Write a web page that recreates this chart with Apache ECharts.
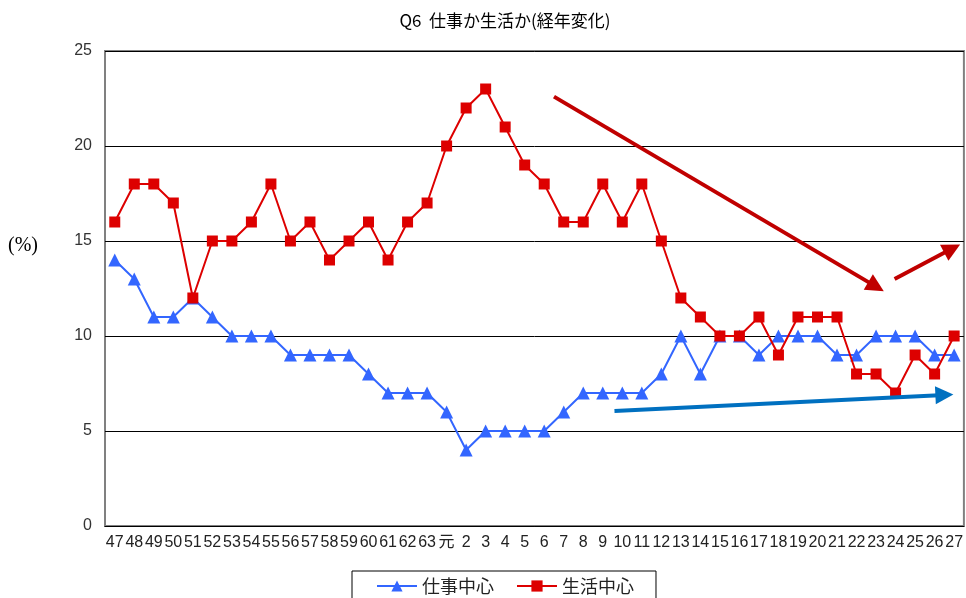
<!DOCTYPE html>
<html><head><meta charset="utf-8">
<script src="https://cdn.jsdelivr.net/npm/echarts@6/dist/echarts.min.js"></script>
<style>html,body{margin:0;padding:0;background:#fff}#c{width:966px;height:598px}</style>
</head><body><div id="c"></div>
<script>
var categories = ['47','48','49','50','51','52','53','54','55','56','57','58','59','60','61','62','63','元','2','3','4','5','6','7','8','9','10','11','12','13','14','15','16','17','18','19','20','21','22','23','24','25','26','27'];
var workValues = [14,13,11,11,12,11,10,10,10,9,9,9,9,8,7,7,7,6,4,5,5,5,5,6,7,7,7,7,8,10,8,10,10,9,10,10,10,9,9,10,10,10,9,9];
var lifeValues = [16,18,18,17,12,15,15,16,18,15,16,14,15,16,14,16,17,20,22,23,21,19,18,16,16,18,16,18,15,12,11,10,10,11,9,11,11,11,8,8,7,9,8,10];
var yTicks = [0,5,10,15,20,25];
// trend arrows (annotation), in [category index, value]
var arrowDown = [[22.5,22.6],[39.0,12.6]];
var arrowUp = [[39.95,13.0],[42.9,14.6]];
var arrowBlue = [[25.6,6.05],[42.5,6.9]];

var font = "'Liberation Sans','Noto Sans CJK JP',sans-serif";
var chart = echarts.init(document.getElementById('c'));
chart.setOption({
  animation:false,
  title:{text:'Q6  仕事か生活か(経年変化)',left:500,textAlign:'center',top:7,
    textStyle:{fontSize:17,fontWeight:'normal',color:'#000',fontFamily:"'Noto Sans CJK JP',sans-serif"}},
  graphic:[{type:'text',left:8,top:236,style:{text:'(%)',font:"20px 'Liberation Serif','DejaVu Serif',serif",fill:'#000'}}],
  legend:{data:['仕事中心','生活中心'],left:352,top:571,padding:[6,22,10,24],itemGap:22,itemWidth:40,itemHeight:14,
    borderColor:'#000',borderWidth:1,
    textStyle:{fontSize:18,color:'#222',fontFamily:"'Noto Sans CJK JP',sans-serif"}},
  grid:{left:105,top:51,width:862,height:475,show:true,borderColor:'#808080',borderWidth:2,backgroundColor:'transparent'},
  xAxis:[{type:'category',data:categories,boundaryGap:true,
      axisLine:{lineStyle:{color:'#000',width:1}},
      axisTick:{inside:true,length:5,lineStyle:{color:'#000'}},
      axisLabel:{interval:0,fontSize:16,color:'#222',fontFamily:font,margin:9,hideOverlap:false},
      splitLine:{show:false}},
    {type:'value',min:-0.5,max:43.5,show:false}],
  yAxis:{type:'value',min:0,max:25,interval:5,
    axisLine:{show:true,onZero:false,lineStyle:{color:'#808080',width:2}},
    axisTick:{show:true,inside:true,length:4,lineStyle:{color:'#000'}},
    axisLabel:{fontSize:16,color:'#333',fontFamily:font,margin:13,
      formatter:function(v){return yTicks.indexOf(v)>=0?String(v):'';}},
    splitLine:{show:true,lineStyle:{color:'#000',width:1}}},
  series:[
    {name:'仕事中心',type:'line',data:workValues,symbol:'triangle',symbolSize:13,
      lineStyle:{color:'#3366ff',width:2},itemStyle:{color:'#3366ff'},z:3},
    {name:'生活中心',type:'line',data:lifeValues,symbol:'rect',symbolSize:11,
      lineStyle:{color:'#dd0000',width:2},itemStyle:{color:'#dd0000'},z:4},
    {type:'lines',coordinateSystem:'cartesian2d',xAxisIndex:1,yAxisIndex:0,symbol:['none','triangle'],symbolSize:[20,18],
      z:5,
      data:[
        {coords:arrowDown,lineStyle:{color:'#c00000',width:4,opacity:1}},
        {coords:arrowUp,lineStyle:{color:'#c00000',width:4,opacity:1}},
        {coords:arrowBlue,lineStyle:{color:'#0070c0',width:4,opacity:1}}
      ]}
  ]
});
</script></body></html>
